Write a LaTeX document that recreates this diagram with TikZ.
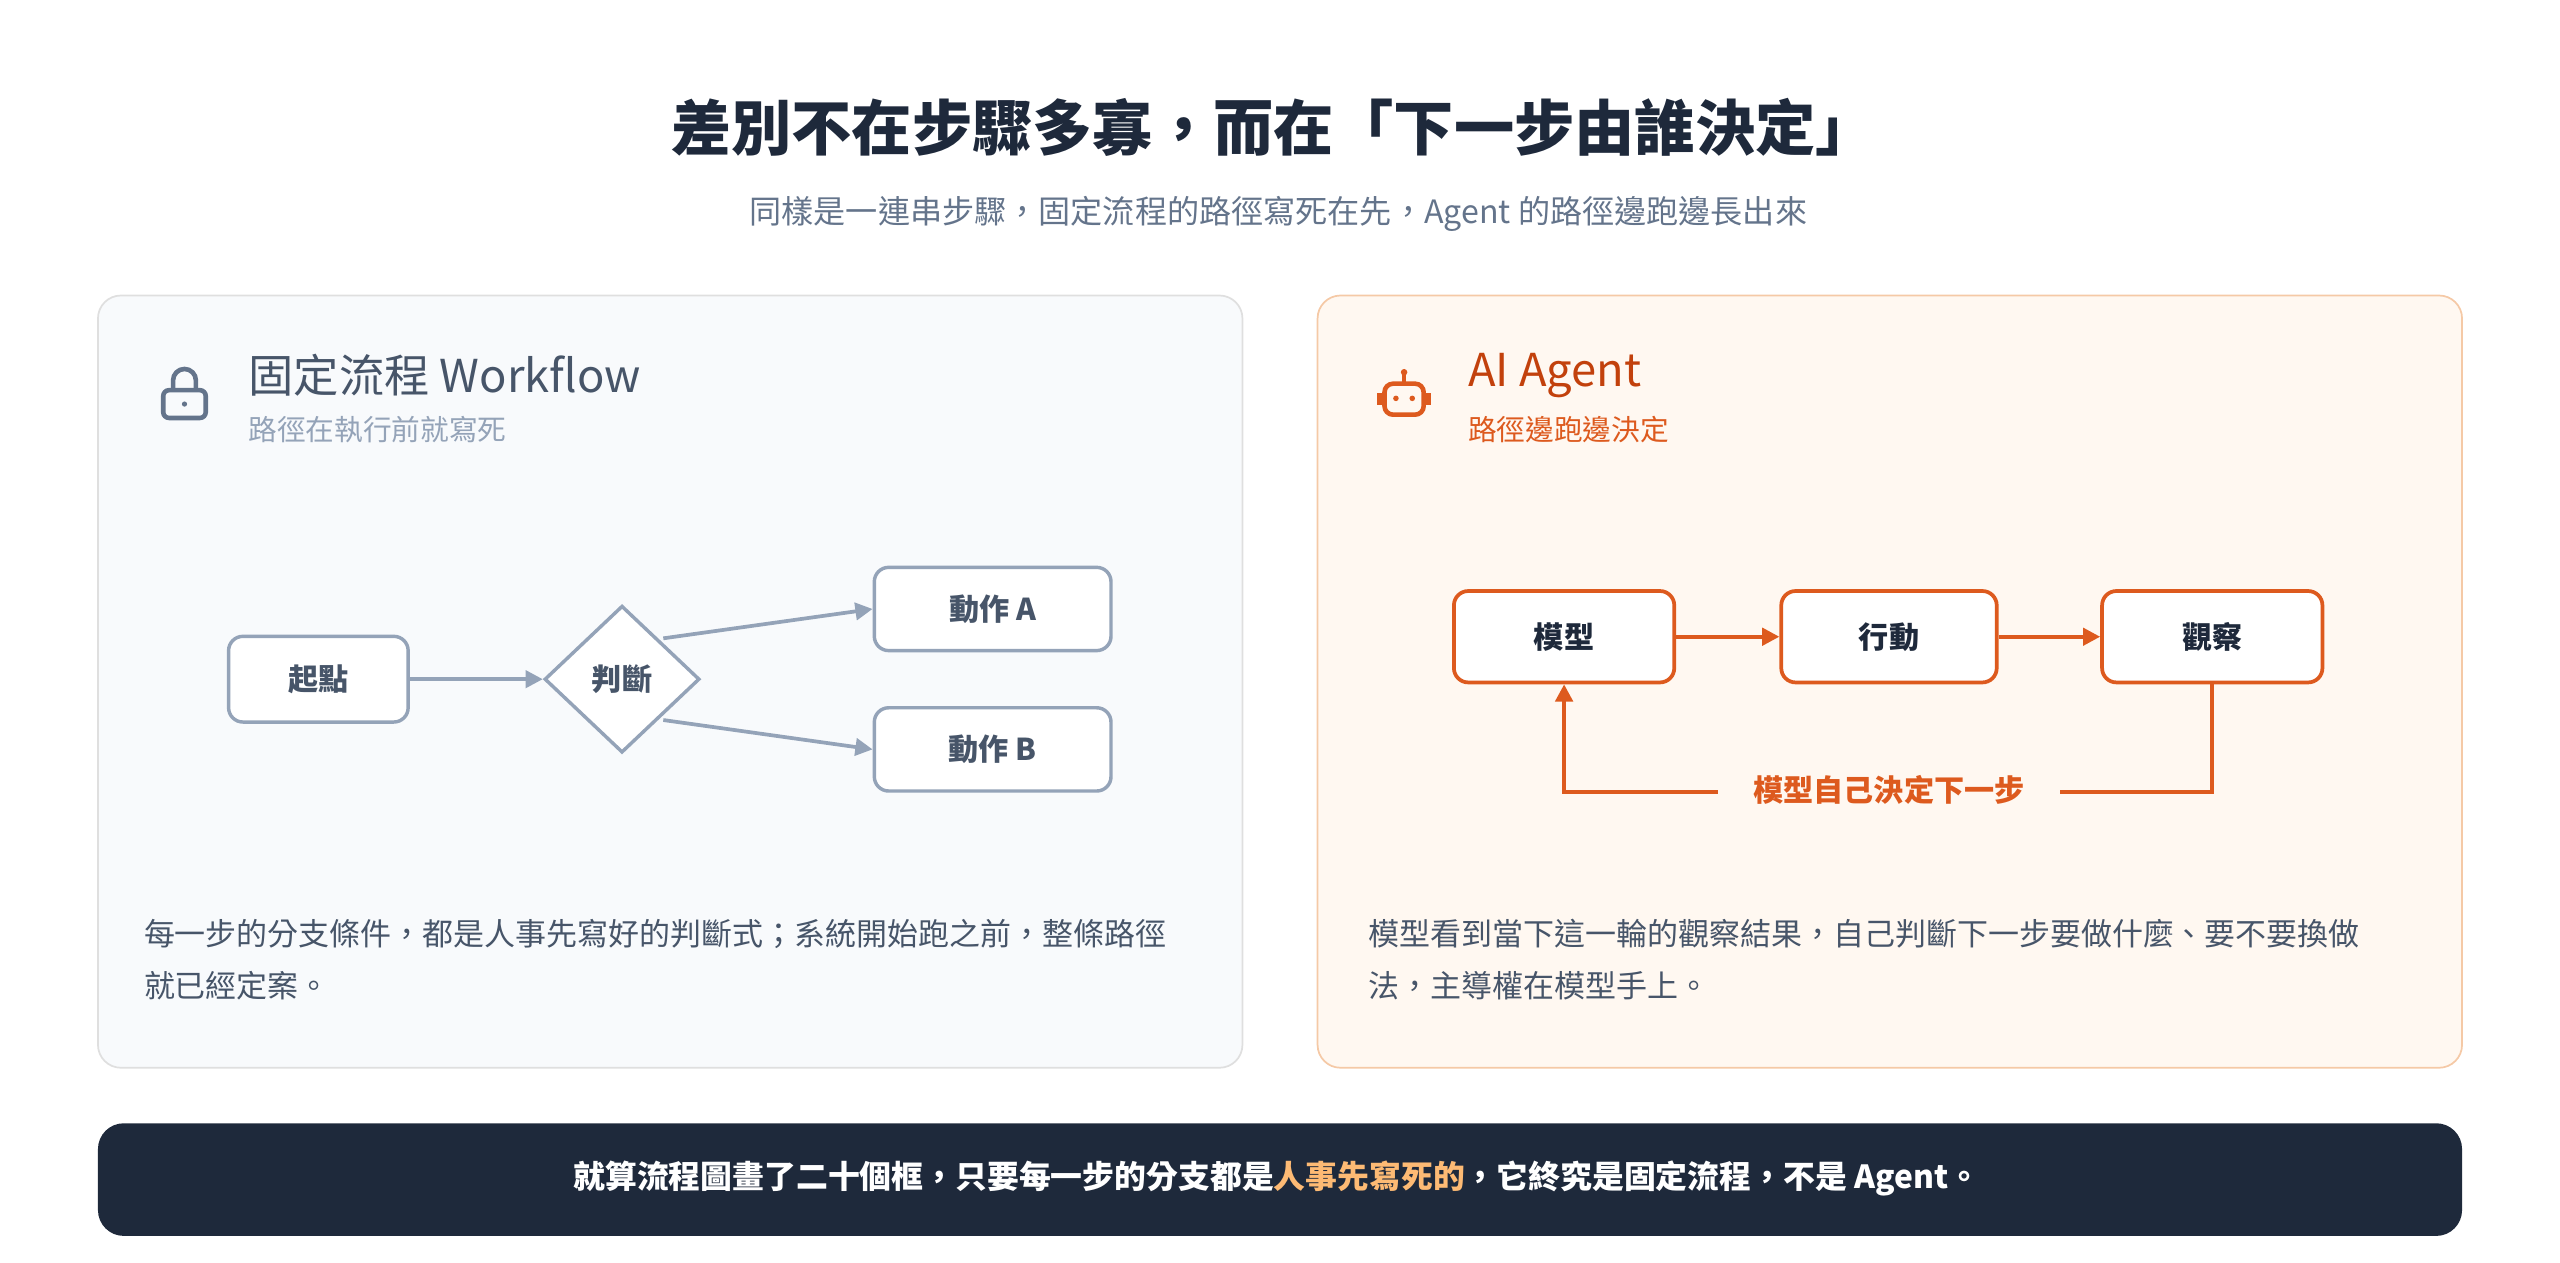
\documentclass[tikz,border=0pt]{standalone}
\usepackage{fontspec}
\setmainfont{Noto Sans CJK TC}
\usetikzlibrary{positioning,shapes.geometric,arrows.meta}
\definecolor{ink}{HTML}{1E293B}
\definecolor{slate}{HTML}{475569}
\definecolor{mute}{HTML}{94A3B8}
\definecolor{lgray}{HTML}{64748B}
\definecolor{orng}{HTML}{DD5A1E}
\definecolor{dorng}{HTML}{C2410C}
\definecolor{peach}{HTML}{FDBA74}
\tikzset{
  panel/.style={rounded corners=8pt,line width=0.6pt},
  wbox/.style={draw=mute,line width=1.2pt,rounded corners=5pt,fill=white,minimum width=3.1cm,minimum height=1.05cm,font=\fontsize{10.5}{12}\selectfont\bfseries,text=slate},
  abox/.style={draw=orng,line width=1.3pt,rounded corners=5pt,fill=white,minimum width=2.7cm,minimum height=1.12cm,font=\fontsize{10.5}{12}\selectfont\bfseries,text=ink},
  warrow/.style={-{Triangle[length=6pt,width=6pt]},draw=mute,line width=1.3pt},
  aarrow/.style={-{Triangle[length=6pt,width=6pt]},draw=orng,line width=1.4pt},
  body/.style={anchor=north west,align=left,font=\fontsize{10.8}{18}\selectfont,text=slate}
}
\begin{document}
\begin{tikzpicture}[x=0.02cm,y=-0.02cm]
    \useasboundingbox (0,0) rectangle (1568,773);

    % titles
    \node (title) at (780,78) {\fontsize{21}{23}\selectfont\bfseries\color{ink}差別不在步驟多寡，而在「下一步由誰決定」};
    \node (sub) at (783,131) {\fontsize{11.2}{13}\selectfont\color{lgray}同樣是一連串步驟，固定流程的路徑寫死在先，Agent 的路徑邊跑邊長出來};

    % panels
    \draw[panel,draw=gray!25,fill={rgb,255:red,248;green,250;blue,252}] (60,181) rectangle (761,654);
    \draw[panel,draw={rgb,255:red,245;green,201;blue,166},fill={rgb,255:red,255;green,248;blue,241}] (807,181) rectangle (1508,654);

    % lock icon
    \draw[lgray,line width=1.6pt,rounded corners=2pt] (100,239) rectangle (126,256);
    \draw[lgray,line width=1.6pt] (106,239) -- (106,233) arc[start angle=180,end angle=360,radius=7] -- (120,239);
    \fill[lgray] (113,247.5) circle (1.6);
    \node[anchor=west] (wftitle) at (146,230) {\fontsize{15.8}{17}\selectfont\color{slate}固定流程 Workflow};
    \node[anchor=west] (wfsub) at (146,263) {\fontsize{10}{12}\selectfont\color{mute}路徑在執行前就寫死};

    % robot icon
    \draw[orng,line width=1.6pt,rounded corners=3pt] (848,235) rectangle (872,254);
    \draw[orng,line width=1.6pt] (860,235) -- (860,229);
    \fill[orng] (860,228) circle (2);
    \fill[orng] (855,244) circle (1.7) (865,244) circle (1.7);
    \draw[orng,line width=1.6pt] (845,241) -- (845,248) (875,241) -- (875,248);
    \node[anchor=west] (agtitle) at (893,230) {\fontsize{15.8}{17}\selectfont\color{dorng}AI Agent};
    \node[anchor=west] (agsub) at (893,263) {\fontsize{10}{12}\selectfont\color{orng}路徑邊跑邊決定};

    % workflow diagram
    \node[wbox,minimum width=2.2cm] (start) at (195,416) {起點};
    \node[diamond,draw=mute,line width=1.2pt,fill=white,minimum width=1.9cm,minimum height=1.8cm,inner sep=0pt,font=\fontsize{10.5}{12}\selectfont\bfseries,text=slate] (judge) at (381,416) {判斷};
    \node[wbox,minimum width=2.9cm,minimum height=1.02cm] (actA) at (608,373) {動作 A};
    \node[wbox,minimum width=2.9cm,minimum height=1.02cm] (actB) at (608,459) {動作 B};
    \draw[warrow] (start) -- (judge);
    \draw[warrow] (judge.north east) ++(1,-2) -- (actA.west);
    \draw[warrow] (judge.south east) ++(1,2) -- (actB.west);

    % agent loop
    \node[abox] (model) at (958,390) {模型};
    \node[abox,minimum width=2.64cm] (act) at (1157,390) {行動};
    \node[abox] (obs) at (1355,390) {觀察};
    \draw[aarrow] (model) -- (act);
    \draw[aarrow] (act) -- (obs);
    \node (loop) at (1157,484) {\fontsize{10.5}{12}\selectfont\bfseries\color{orng}模型自己決定下一步};
    \coordinate (loopR) at (1262,485);
    \coordinate (loopL) at (1052,485);
    \draw[orng,line width=1.4pt] (obs.south) |- (loopR);
    \draw[aarrow] (loopL) -| (model.south);

    % captions
    \node[body] (wftext) at (82,557) {每一步的分支條件，都是人事先寫好的判斷式；系統開始跑之前，整條路徑\\就已經定案。};
    \node[body] (agtext) at (832,557) {模型看到當下這一輪的觀察結果，自己判斷下一步要做什麼、要不要換做\\法，主導權在模型手上。};

    % bottom bar
    \fill[ink,rounded corners=9pt] (60,688) rectangle (1508,757);
    \node (note) at (782,722) {\fontsize{11.1}{13}\selectfont\bfseries\color{white}就算流程圖畫了二十個框，只要每一步的分支都是\textcolor{peach}{人事先寫死的}，它終究是固定流程，不是 Agent。};
\end{tikzpicture}
\end{document}
